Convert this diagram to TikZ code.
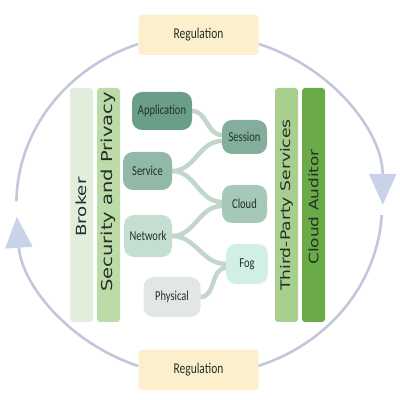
\documentclass[tikz,border=0pt]{standalone}
\usepackage{fontspec}
\usepackage{graphicx}
\usetikzlibrary{arrows.meta,backgrounds}
\newfontfamily\regfont{Carlito}
\newfontfamily\barfont{DejaVu Sans}
\definecolor{regfill}{HTML}{FCEFCB}
\definecolor{ringc}{HTML}{C4C7DB}
\definecolor{arrowc}{HTML}{C8D3EA}
\definecolor{brokerc}{HTML}{E2EDDB}
\definecolor{securc}{HTML}{BDDAA9}
\definecolor{thirdc}{HTML}{A9CF8E}
\definecolor{auditc}{HTML}{6BAB47}
\definecolor{appc}{HTML}{6B9E88}
\definecolor{sessc}{HTML}{82AE9B}
\definecolor{servc}{HTML}{92B8A7}
\definecolor{cloudc}{HTML}{A6C8B8}
\definecolor{netc}{HTML}{C5DED2}
\definecolor{fogc}{HTML}{D2EFE3}
\definecolor{physc}{HTML}{E2E6E6}
\definecolor{linkc}{HTML}{C3D6CC}
\definecolor{txtc}{HTML}{22302A}
\newcommand\vstretch[1]{\scalebox{1}[1.3]{#1}}
\newcommand\hstretch[1]{\scalebox{1.3}[1]{#1}}
\begin{document}
\begin{tikzpicture}[x=1pt,y=1pt,
  regbox/.style={fill=regfill, rounded corners=3pt, minimum width=120pt, minimum height=40pt, inner sep=0pt,
    font=\regfont\fontsize{11.5}{13}\selectfont, text=txtc},
  barbox/.style={rounded corners=3pt, minimum width=23pt, minimum height=234pt, inner sep=0pt},
  bartext/.style={rotate=90, inner sep=0pt, text=txtc},
  layer/.style={rounded corners=10pt, inner sep=0pt, font=\regfont\fontsize{10.5}{12}\selectfont, text=txtc},
  link/.style={draw=linkc, line width=4.5pt, line cap=round},
  ring/.style={draw=ringc, line width=2.6pt},
  tipc/.style={-{Triangle[length=31pt,width=27pt,fill=arrowc,color=arrowc]}}
]
\useasboundingbox (0,0) rectangle (400,400);

% Regulation boxes
\node[regbox] (regT) at (198.5,365) {\vstretch{Regulation}};
\node[regbox] (regB) at (198.5,30) {\vstretch{Regulation}};

% side bars
\node[barbox, fill=brokerc] (broker) at (81.5,195) {};
\node[barbox, fill=securc] (secur) at (108.5,195) {};
\node[barbox, fill=thirdc] (third) at (286.5,195) {};
\node[barbox, fill=auditc] (audit) at (313.5,195) {};
\node[bartext, font=\barfont\fontsize{14}{16}\selectfont] (brokerT) at ([yshift=-2pt]broker.center) {\hstretch{Broker}};
\node[bartext, font=\barfont\fontsize{15}{17}\selectfont] (securT) at ([yshift=13pt]secur.center) {\hstretch{Security and Privacy}};
\node[bartext, font=\barfont\fontsize{13.2}{15}\selectfont] (thirdT) at (third.center) {\hstretch{Third-Party Services}};
\node[bartext, font=\barfont\fontsize{13}{15}\selectfont] (auditT) at ([yshift=-2pt]audit.center) {\hstretch{Cloud Auditor}};

% layer nodes
\node[layer, fill=appc, minimum width=60pt, minimum height=38pt] (app) at (162,289) {\vstretch{Application}};
\node[layer, fill=sessc, minimum width=45pt, minimum height=34pt] (sess) at (244.5,263) {\vstretch{Session}};
\node[layer, fill=servc, minimum width=49pt, minimum height=38pt] (serv) at (147.5,229) {\vstretch{Service}};
\node[layer, fill=cloudc, minimum width=45pt, minimum height=38pt] (cloud) at (244.5,196) {\vstretch{Cloud}};
\node[layer, fill=netc, minimum width=48pt, minimum height=42pt] (net) at (148,164) {\vstretch{Network}};
\node[layer, fill=fogc, minimum width=42pt, minimum height=40pt] (fog) at (247,136) {\vstretch{Fog}};
\node[layer, fill=physc, minimum width=57pt, minimum height=40pt] (phys) at (172,103) {\vstretch{Physical}};

\begin{scope}[on background layer]
  % connectors between layers
  \draw[link] (app.east) to[out=0,in=180] ([yshift=2pt]sess.west);
  \draw[link] (serv.east) to[out=0,in=180] ([yshift=-4pt]sess.west);
  \draw[link] (serv.east) to[out=0,in=180] ([yshift=2pt]cloud.west);
  \draw[link] (net.east) to[out=0,in=180] ([yshift=-2pt]cloud.west);
  \draw[link] (net.east) to[out=0,in=180] (fog.west);
  \draw[link] (phys.east) to[out=0,in=180] ([yshift=-4pt]fog.west);
  % ring
  \draw[ring] ([yshift=-9pt]regT.west) arc[start angle=109.5, end angle=179, x radius=183pt, y radius=170pt];
  \draw[ring, tipc] ([yshift=-9pt]regT.east) arc[start angle=71.2, end angle=0, x radius=183pt, y radius=170pt];
  \coordinate (rgap) at (381.7,184.9);
  \draw[ring] (rgap) arc[start angle=-3.4, end angle=-71.2, x radius=183pt, y radius=170pt];
  \draw[ring, tipc] ([yshift=4pt]regB.west) arc[start angle=-109.5, end angle=-176.3, x radius=183pt, y radius=170pt];
\end{scope}
\end{tikzpicture}
\end{document}
